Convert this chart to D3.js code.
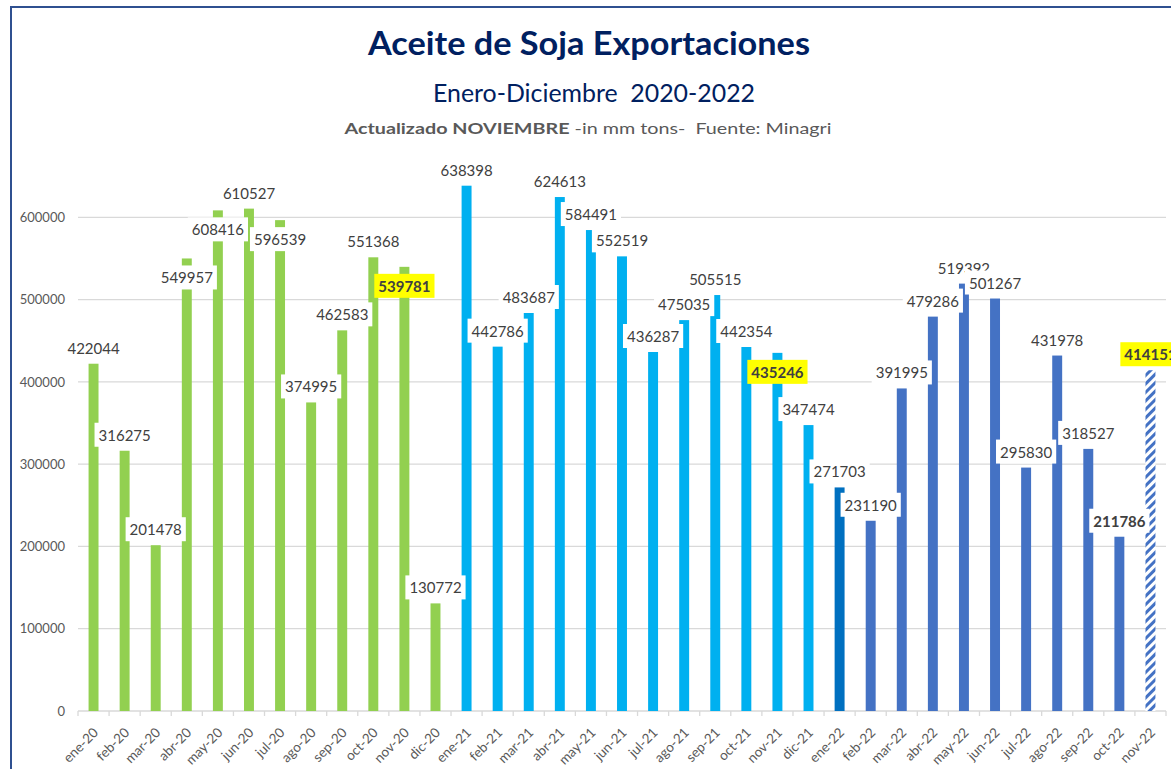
<!DOCTYPE html>
<html>
<head>
<meta charset="utf-8">
<script src="https://cdn.jsdelivr.net/npm/d3@7"></script>
<style>
  body { margin: 0; background: #fff; }
  svg { display: block; font-family: Lato, "Noto Sans", sans-serif; }
</style>
</head>
<body>
<svg id="chart" width="1171" height="769"></svg>
<script>
// datos: exportaciones mensuales de aceite de soja (tons)
var categories = ["ene-20","feb-20","mar-20","abr-20","may-20","jun-20","jul-20","ago-20","sep-20","oct-20","nov-20","dic-20",
                  "ene-21","feb-21","mar-21","abr-21","may-21","jun-21","jul-21","ago-21","sep-21","oct-21","nov-21","dic-21",
                  "ene-22","feb-22","mar-22","abr-22","may-22","jun-22","jul-22","ago-22","sep-22","oct-22","nov-22"];
var values = [422044,316275,201478,549957,608416,610527,596539,374995,462583,551368,539781,130772,
              638398,442786,483687,624613,584491,552519,436287,475035,505515,442354,435246,347474,
              271703,231190,391995,479286,519392,501267,295830,431978,318527,211786,414151];
var yTicks = [0,100000,200000,300000,400000,500000,600000];
var highlighted = ["nov-20","nov-21","nov-22"];
var boldLabels = ["nov-20","nov-21","oct-22","nov-22"];
var labelsInside = ["abr-20","may-20","jul-20","nov-20","nov-21"];

var svg = d3.select("#chart");

var x = d3.scaleBand()
    .domain(categories)
    .range([78, 1166])
    .paddingInner(0.68)
    .paddingOuter(0.34);
var step = x.step();

var y = d3.scaleLinear()
    .domain([0, 700000])
    .range([711, 135]);

barColor = function(d){
    if(d == "nov-22") return "url(#stripes)";
    if(d == "ene-22") return "#0070C0";
    if(d.slice(-2) == "20") return "#92D050";
    if(d.slice(-2) == "21") return "#00B0F0";
    return "#4472C4";
}

// patron rayado del ultimo mes
var pat = svg.append("defs").append("pattern")
    .attr("id", "stripes")
    .attr("patternUnits", "userSpaceOnUse")
    .attr("width", 6)
    .attr("height", 6)
    .attr("patternTransform", "rotate(45)");
pat.append("rect").attr("width", 6).attr("height", 6).attr("fill", "#fff");
pat.append("rect").attr("width", 3).attr("height", 6).attr("fill", "#4472C4");

// marco
svg.append("rect")
    .attr("x", 11).attr("y", 7)
    .attr("width", 1200).attr("height", 800)
    .attr("fill", "none")
    .attr("stroke", "#2F5090")
    .attr("stroke-width", 2);

// titulos
svg.append("text")
    .attr("x", 589).attr("y", 55)
    .attr("text-anchor", "middle")
    .attr("textLength", 442)
    .attr("lengthAdjust", "spacingAndGlyphs")
    .style("font-size", "32px").style("font-weight", "bold")
    .style("fill", "#002060")
    .text("Aceite de Soja Exportaciones");

svg.append("text")
    .attr("x", 594).attr("y", 102)
    .attr("text-anchor", "middle")
    .attr("textLength", 322)
    .attr("lengthAdjust", "spacingAndGlyphs")
    .style("font-size", "25px")
    .style("fill", "#002060")
    .style("white-space", "pre")
    .text("Enero-Diciembre  2020-2022");

var sub = svg.append("text")
    .attr("x", 588).attr("y", 134)
    .attr("text-anchor", "middle")
    .attr("textLength", 487)
    .attr("lengthAdjust", "spacingAndGlyphs")
    .style("font-size", "16px")
    .style("fill", "#595959")
    .style("white-space", "pre");
sub.append("tspan").style("font-weight", "bold").text("Actualizado NOVIEMBRE");
sub.append("tspan").text(" -in mm tons-  Fuente: Minagri");

// lineas de division
svg.append("g")
    .selectAll("line")
    .data(yTicks)
    .enter()
    .append("line")
    .attr("x1", 78).attr("x2", 1166)
    .attr("y1", function(d){ return y(d); })
    .attr("y2", function(d){ return y(d); })
    .attr("stroke", "#d9d9d9")
    .attr("stroke-width", 1.3);

// eje y
var yAxis = svg.append("g")
    .attr("transform", "translate(78,0)")
    .call(d3.axisLeft(y).tickValues(yTicks).tickSize(0).tickPadding(13).tickFormat(d3.format("d")));
yAxis.select(".domain").remove();
yAxis.selectAll("text")
    .style("font-family", "Lato")
    .style("font-size", "13px")
    .style("fill", "#595959");

// marcas entre categorias
svg.append("g")
    .selectAll("line")
    .data(categories.concat(["end"]))
    .enter()
    .append("line")
    .attr("x1", function(d, i){ return x.range()[0] + i*step; })
    .attr("x2", function(d, i){ return x.range()[0] + i*step; })
    .attr("y1", y(0))
    .attr("y2", y(0) + 5)
    .attr("stroke", "#d9d9d9")
    .attr("stroke-width", 1.3);

// eje x
var xAxis = svg.append("g")
    .attr("transform", "translate(0," + y(0) + ")")
    .call(d3.axisBottom(x).tickSize(0));
xAxis.select(".domain").remove();
xAxis.selectAll("text")
    .attr("y", 0)
    .attr("dy", 0)
    .attr("text-anchor", "end")
    .attr("dominant-baseline", "central")
    .attr("transform", "translate(2,19) rotate(-45)")
    .style("font-family", "Lato")
    .style("font-size", "13.5px")
    .style("fill", "#595959");

// barras
svg.append("g")
    .selectAll("rect")
    .data(categories)
    .enter()
    .append("rect")
    .attr("x", function(d){ return x(d); })
    .attr("y", function(d, i){ return y(values[i]); })
    .attr("width", x.bandwidth())
    .attr("height", function(d, i){ return y(0) - y(values[i]); })
    .attr("fill", function(d){ return barColor(d); });

// etiquetas de datos (caja + texto, en orden)
var labels = svg.append("g")
    .selectAll("g")
    .data(categories)
    .enter()
    .append("g")
    .attr("transform", function(d, i){
        var cy = labelsInside.indexOf(d) >= 0 ? y(values[i]) + 19 : y(values[i]) - 16;
        return "translate(" + (x(d) + x.bandwidth()/2) + "," + cy + ")";
    });

labels.append("rect");
labels.append("text")
    .attr("text-anchor", "middle")
    .attr("dominant-baseline", "central")
    .style("font-size", "15px")
    .style("font-weight", function(d){ return boldLabels.indexOf(d) >= 0 ? "bold" : "normal"; })
    .style("fill", "#404040")
    .text(function(d, i){ return values[i]; });

labels.each(function(d){
    var g = d3.select(this);
    var w = g.select("text").node().getComputedTextLength() + 8;
    g.select("rect")
        .attr("x", -w/2).attr("y", -12)
        .attr("width", w).attr("height", 24)
        .attr("fill", highlighted.indexOf(d) >= 0 ? "#FFFF00" : "#fff");
});
</script>
</body>
</html>
